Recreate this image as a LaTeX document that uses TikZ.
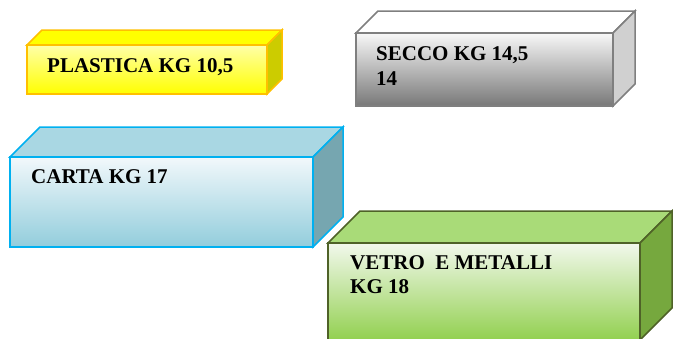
\documentclass[tikz,border=0pt]{standalone}
\usepackage{fontspec}
\setmainfont{Liberation Serif}
\definecolor{plBorder}{HTML}{FFC000}
\definecolor{plTop}{HTML}{FFFF00}
\definecolor{plRight}{HTML}{CCCC00}
\definecolor{plFrontA}{HTML}{FFFFA8}
\definecolor{plFrontB}{HTML}{FFFF00}
\definecolor{seBorder}{HTML}{7F7F7F}
\definecolor{seTop}{HTML}{FFFFFF}
\definecolor{seRight}{HTML}{D0D0D0}
\definecolor{seFrontA}{HTML}{F8F8F8}
\definecolor{seFrontB}{HTML}{787878}
\definecolor{caBorder}{HTML}{00B0F0}
\definecolor{caTop}{HTML}{A9D7E3}
\definecolor{caRight}{HTML}{76A6B0}
\definecolor{caFrontA}{HTML}{F2F8FB}
\definecolor{caFrontB}{HTML}{92CDDC}
\definecolor{veBorder}{HTML}{4F6228}
\definecolor{veTop}{HTML}{A9DB78}
\definecolor{veRight}{HTML}{76A83E}
\definecolor{veFrontA}{HTML}{F2F8EC}
\definecolor{veFrontB}{HTML}{92D050}
% #1 x, #2 y, #3 w, #4 h, #5 depth, #6 prefix of colour names
\newcommand\mycuboid[6]{%
  \draw[face, draw=#6Border, fill=#6Top] (#1,#2) -- ++(#5,-#5) -- ++(#3,0) -- ++(-#5,#5) -- cycle;
  \draw[face, draw=#6Border, fill=#6Right] (#1+#3,#2) -- ++(#5,-#5) -- ++(0,#4) -- ++(-#5,#5) -- cycle;
  \draw[face, draw=#6Border, top color=#6FrontA, bottom color=#6FrontB] (#1,#2) rectangle ++(#3,#4);
}
\begin{document}
\begin{tikzpicture}[x=1pt,y=-1pt,
  face/.style={line width=1.5pt, line join=miter},
  lbl/.style={font=\fontsize{21}{25}\selectfont\bfseries, anchor=base west, inner sep=0pt, align=left}]
\useasboundingbox (0,0) rectangle (673,338);
\clip (0,0) rectangle (673,338);
\mycuboid{27}{45}{240}{49}{15}{pl}
\mycuboid{356}{33}{257}{73}{22}{se}
\mycuboid{10}{157}{303}{90}{30}{ca}
\mycuboid{328}{243}{312}{97}{32}{ve}
\node[lbl] (plastica) at (47,72) {PLASTICA KG 10,5};
\node[lbl] (secco1) at (376,60) {SECCO KG 14,5};
\node[lbl] (secco2) at (376,85) {14};
\node[lbl] (carta) at (31,183) {CARTA KG 17};
\node[lbl] (vetro1) at (350,269) {VETRO\ \ E METALLI};
\node[lbl] (vetro2) at (350,293) {KG 18};
\end{tikzpicture}
\end{document}
